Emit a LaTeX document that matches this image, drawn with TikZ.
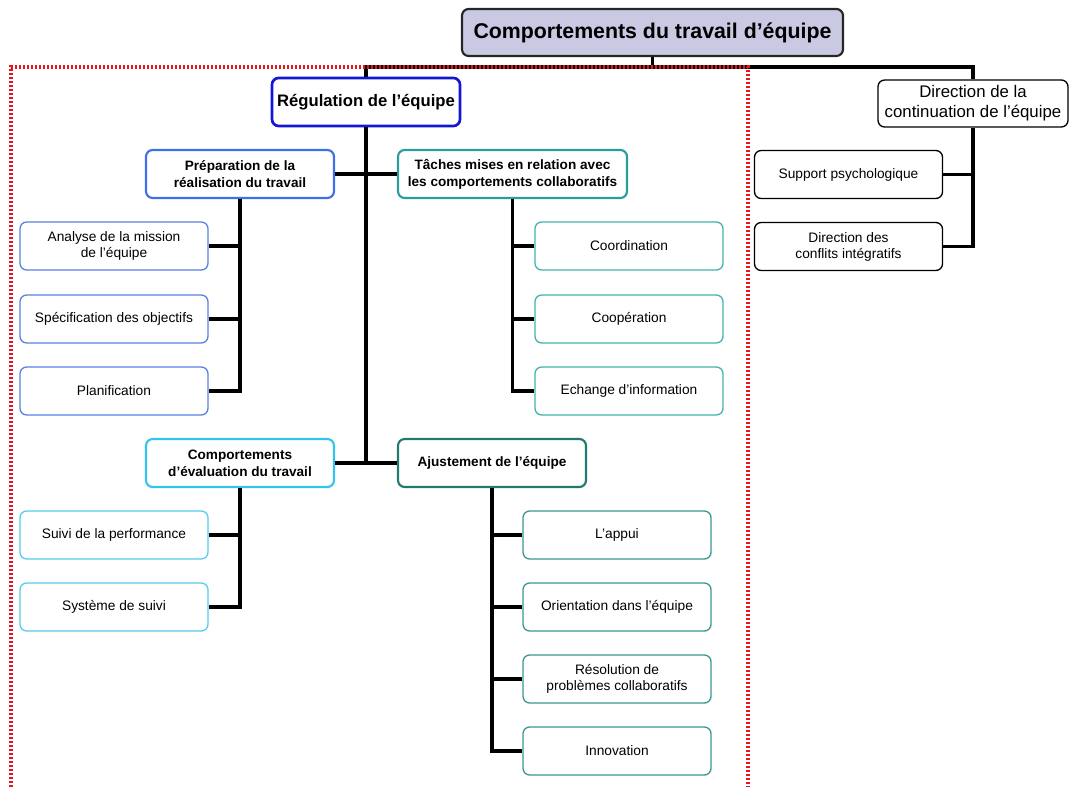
\documentclass[tikz,border=0pt]{standalone}
\usepackage{fontspec}
\setmainfont{Liberation Sans}
\begin{document}
\begin{tikzpicture}[x=0.75pt,y=-0.75pt,
  box/.style={draw, rounded corners=5pt, fill=white, align=center, inner sep=0pt,
    minimum width=141pt, minimum height=36pt, text=black},
  leaf/.style={box, line width=1pt, font=\fontsize{10.3}{12}\selectfont},
  head/.style={box, line width=1.6pt, font=\fontsize{10.2}{12.75}\selectfont\bfseries},
  conn/.style={line width=2.3pt, black},
  frame/.style={draw=framered, line width=2.4pt, dash pattern=on 1.8pt off 1.2pt}
]
\definecolor{lav}{HTML}{C9C9E3}
\definecolor{regblue}{HTML}{1515D8}
\definecolor{prepc}{HTML}{3D6FE8}
\definecolor{prepl}{HTML}{5A80E0}
\definecolor{tachc}{HTML}{2A9D9A}
\definecolor{tachl}{HTML}{45B2AE}
\definecolor{evalc}{HTML}{33C5EE}
\definecolor{evall}{HTML}{55CCEE}
\definecolor{ajuc}{HTML}{1F7A70}
\definecolor{ajul}{HTML}{3A9890}
\definecolor{framered}{HTML}{E8141C}

\useasboundingbox (0,0) rectangle (1069,787);

% top level
\node[box, fill=lav, draw=black!85, line width=1.6pt, minimum width=285.75pt, minimum height=35.25pt,
  font=\fontsize{16}{19}\selectfont\bfseries] (title) at (652.5,32.5) {Comportements du travail d’équipe};
\node[box, draw=regblue, line width=2pt, font=\fontsize{12.5}{15}\selectfont\bfseries] (reg) at (366,102) {Régulation de l’équipe};
\node[box, draw=black, line width=1pt, minimum width=142.5pt, minimum height=35.25pt,
  font=\fontsize{12.6}{15}\selectfont] (dir) at (973,103.5) {Direction de la\\continuation de l’équipe};

% second level under regulation
\node[head, draw=prepc] (prep) at (240,174) {Préparation de la\\réalisation du travail};
\node[head, draw=tachc, minimum width=171.75pt] (taches) at (512.5,174) {Tâches mises en relation avec\\les comportements collaboratifs};
\node[head, draw=evalc] (eval) at (240,463) {Comportements\\d’évaluation du travail};
\node[head, draw=ajuc] (ajust) at (492,463) {Ajustement de l’équipe};

% leaves
\node[leaf, draw=prepl] (analyse) at (114,246) {Analyse de la mission\\de l’équipe};
\node[leaf, draw=prepl] (spec) at (114,319) {Spécification des objectifs};
\node[leaf, draw=prepl] (plan) at (114,391) {Planification};

\node[leaf, draw=tachl] (coord) at (629,246) {Coordination};
\node[leaf, draw=tachl] (coop) at (629,319) {Coopération};
\node[leaf, draw=tachl] (echange) at (629,391) {Echange d’information};

\node[leaf, draw=evall] (suivi) at (114,535) {Suivi de la performance};
\node[leaf, draw=evall] (systeme) at (114,607) {Système de suivi};

\node[leaf, draw=ajul] (appui) at (617,535) {L’appui};
\node[leaf, draw=ajul] (orient) at (617,607) {Orientation dans l’équipe};
\node[leaf, draw=ajul] (resol) at (617,679) {Résolution de\\problèmes collaboratifs};
\node[leaf, draw=ajul] (innov) at (617,751) {Innovation};

\node[leaf, draw=black] (support) at (848.5,174.5) {Support psychologique};
\node[leaf, draw=black] (conflits) at (848.5,246.5) {Direction des\\conflits intégratifs};

% connectors
\coordinate (bus) at (652.5,67);
\coordinate (hub) at (366,463);
\draw[conn] (title.south) -- (bus);
\draw[conn] (reg.north) |- (bus);
\draw[conn] (dir.north) |- (bus);
\draw[conn] (reg.south) -- (hub);
\draw[conn] (prep.east) -- (taches.west);
\draw[conn] (eval.east) -- (ajust.west);

\draw[conn] (prep.south) |- (plan.east);
\draw[conn] (analyse.east) -- (analyse.east -| prep.south);
\draw[conn] (spec.east) -- (spec.east -| prep.south);

\draw[conn] (taches.south) |- (echange.west);
\draw[conn] (coord.west) -- (coord.west -| taches.south);
\draw[conn] (coop.west) -- (coop.west -| taches.south);

\draw[conn] (eval.south) |- (systeme.east);
\draw[conn] (suivi.east) -- (suivi.east -| eval.south);

\draw[conn] (ajust.south) |- (innov.west);
\draw[conn] (appui.west) -- (appui.west -| ajust.south);
\draw[conn] (orient.west) -- (orient.west -| ajust.south);
\draw[conn] (resol.west) -- (resol.west -| ajust.south);

\draw[conn] (dir.south) |- (conflits.east);
\draw[conn] (support.east) -- (support.east -| dir.south);

% dotted frame around the regulation branch
\draw[frame] (11,787) -- (11,67) -- (748,67) -- (748,787);
\end{tikzpicture}
\end{document}
